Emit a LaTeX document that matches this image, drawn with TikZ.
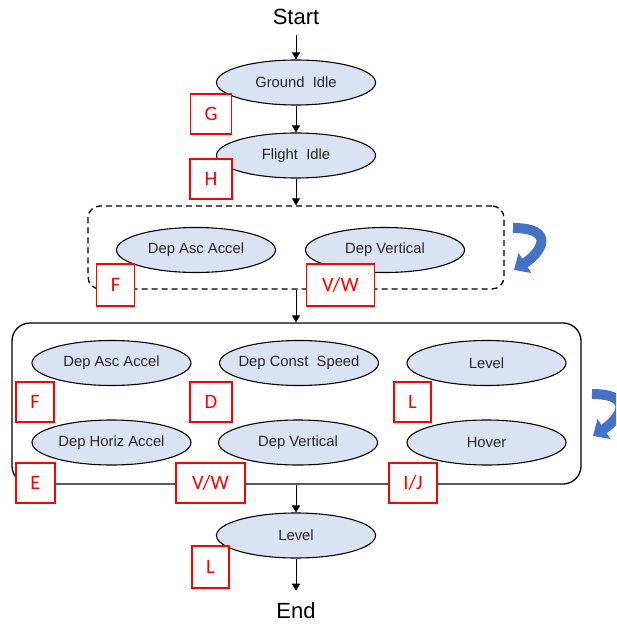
\documentclass[tikz,border=0pt]{standalone}
\usepackage{fontspec}
\setmainfont{Liberation Sans}
\newfontfamily\tagfont{Carlito}
\usetikzlibrary{shapes.geometric,arrows.meta}
\definecolor{ovalfill}{HTML}{DAE3F3}
\definecolor{tagred}{HTML}{FF0000}
\definecolor{turnblue}{HTML}{4472C4}
% keep oval captions from widening the fixed-size ovals
\newcommand\ovtext[1]{\makebox[0pt]{#1}}
\begin{document}
\begin{tikzpicture}[x=1pt,y=-1pt,
  oval/.style={ellipse, draw=black, line width=1.1pt, fill=ovalfill,
    minimum width=159pt, minimum height=45pt, inner sep=0pt,
    font=\fontsize{14.8}{16}\selectfont, text=black!85},
  tag/.style={draw=tagred, line width=1.6pt, fill=white, text=tagred,
    font=\tagfont\fontsize{20.5}{22}\selectfont, minimum height=40pt, inner sep=0pt},
  flow/.style={-{Triangle[width=8pt,length=7pt]}, line width=0.9pt},
  term/.style={font=\fontsize{22}{24}\selectfont, inner sep=0pt},
  grpdash/.style={draw=black, line width=1.3pt, dash pattern=on 6pt off 4pt,
    rounded corners=12pt},
  grpsolid/.style={draw=black, line width=1.3pt, rounded corners=18pt},
  turn/.style={draw=turnblue, line width=10pt,
    -{Triangle[width=23pt,length=13pt,fill=turnblue]}},
]
\useasboundingbox (0,0) rectangle (616,628);
\clip (0,0) rectangle (616,628);

% group frames
\node[grpdash, minimum width=416pt, minimum height=83pt] (grp1) at (296,247.5) {};
\node[grpsolid, minimum width=569pt, minimum height=161pt] (grp2) at (296.5,403.5) {};

% terminals
\node[term] (start) at (296,17) {Start};
\node[term] (finish) at (296,611) {End};

% states
\node[oval] (gi)  at (296,82.5)   {\ovtext{Ground\ \ Idle}};
\node[oval] (fi)  at (296,155.5)  {\ovtext{Flight\ \ Idle}};
\node[oval] (da1) at (196,250)    {\ovtext{Dep Asc Accel}};
\node[oval] (dv1) at (385,250)    {\ovtext{Dep Vertical}};
\node[oval] (da2) at (111.5,363)  {\ovtext{Dep Asc Accel}};
\node[oval] (dc)  at (299,363)    {\ovtext{Dep Const\ \ Speed}};
\node[oval] (lv1) at (486.5,363)  {\ovtext{Level}};
\node[oval] (dh)  at (111.5,442.5){\ovtext{Dep Horiz Accel}};
\node[oval] (dv2) at (298,442.5)  {\ovtext{Dep Vertical}};
\node[oval] (hv)  at (486.5,442.5){\ovtext{Hover}};
\node[oval] (lv2) at (296,535.5)  {\ovtext{Level}};

% flow
\draw[flow, shorten <=10pt] (start) -- (gi);
\draw[flow] (gi) -- (fi);
\draw[flow] (fi.south) -- (fi.south |- grp1.north);
\draw[flow] (grp1.south) -- (grp1.south |- grp2.north);
\draw[flow] (lv2.north |- grp2.south) -- (lv2.north);
\draw[flow, shorten >=12pt] (lv2) -- (finish);

% repeat markers
\draw[turn] (513,228) .. controls (556,228) and (542,252) .. (514,270);
\draw[turn] (592,394) .. controls (635,394) and (621,418) .. (593,436);

% condition tags
\node[tag, minimum width=41pt] (tG)  at (211,114)   {G};
\node[tag, minimum width=42pt] (tH)  at (211,179)   {H};
\node[tag, minimum width=38pt, minimum height=42pt] (tF1) at (115.5,285) {F};
\node[tag, minimum width=68pt, minimum height=42pt] (tVW1) at (340.5,285) {V/W};
\node[tag, minimum width=38pt] (tF2) at (35,402)    {F};
\node[tag, minimum width=42pt] (tD)  at (211,402)   {D};
\node[tag, minimum width=37pt] (tL1) at (412.5,402) {L};
\node[tag, minimum width=39pt] (tE)  at (35.5,483)  {E};
\node[tag, minimum width=69pt] (tVW2) at (210.5,483) {V/W};
\node[tag, minimum width=48pt] (tIJ) at (413,483)   {I/J};
\node[tag, minimum width=37pt, minimum height=42pt] (tL2) at (210.5,567) {L};
\end{tikzpicture}
\end{document}
